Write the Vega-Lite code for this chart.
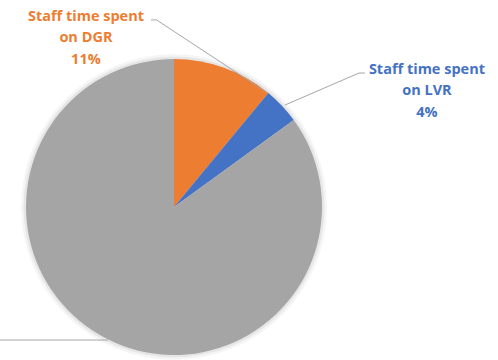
{
  "$schema": "https://vega.github.io/schema/vega-lite/v6.json",
  "autosize": "none",
  "width": 348,
  "height": 414,
  "padding": {"left": 0, "top": 0, "right": 150, "bottom": 0},
  "background": "white",
  "config": {"view": {"stroke": null}},
  "datasets": {
    "slices": [
      {"category": "Staff time spent on DGR", "value": 11, "ord": 1},
      {"category": "Staff time spent on LVR", "value": 4, "ord": 2},
      {"category": "Other staff time", "value": 85, "ord": 3}
    ],
    "leaders": [
      {"leader": "DGR", "seq": 1, "px": -15.5, "py": 126.4},
      {"leader": "DGR", "seq": 2, "px": -11.8, "py": 126.4},
      {"leader": "DGR", "seq": 3, "px": 62.5, "py": 77.5},
      {"leader": "LVR", "seq": 1, "px": 129.0, "py": 90.5},
      {"leader": "LVR", "seq": 2, "px": 125.0, "py": 90.5},
      {"leader": "LVR", "seq": 3, "px": 75.0, "py": 68.9},
      {"leader": "Other", "seq": 1, "px": -44.6, "py": -89.9},
      {"leader": "Other", "seq": 2, "px": -125.0, "py": -89.9}
    ],
    "labels": [
      {"label": ["Staff time spent", "on DGR", "11%"], "category": "Staff time spent on DGR", "px": -59.5, "py": 128.4},
      {"label": ["Staff time spent", "on LVR", "4%"], "category": "Staff time spent on LVR", "px": 170.9, "py": 92.6}
    ]
  },
  "layer": [
    {
      "data": {"values": [{"v": 100}]},
      "mark": {"type": "arc", "outerRadius": 153, "fill": "#000000", "opacity": 0.04},
      "encoding": {"theta": {"field": "v", "type": "quantitative", "scale": {"domain": [0, 100]}}}
    },
    {
      "data": {"values": [{"v": 100}]},
      "mark": {"type": "arc", "outerRadius": 150.5, "fill": "#000000", "opacity": 0.06},
      "encoding": {"theta": {"field": "v", "type": "quantitative", "scale": {"domain": [0, 100]}}}
    },
    {
      "data": {"name": "slices"},
      "mark": {"type": "arc", "outerRadius": 148},
      "encoding": {
        "theta": {"field": "value", "type": "quantitative", "stack": true, "scale": {"domain": [0, 100]}},
        "order": {"field": "ord", "type": "quantitative"},
        "color": {
          "field": "category",
          "type": "nominal",
          "scale": {
            "domain": ["Staff time spent on DGR", "Staff time spent on LVR", "Other staff time"],
            "range": ["#ED7D31", "#4472C4", "#A5A5A5"]
          },
          "legend": null
        }
      }
    },
    {
      "data": {"name": "leaders"},
      "mark": {"type": "line", "stroke": "#A6A6A6", "strokeWidth": 1, "clip": false},
      "encoding": {
        "x": {"field": "px", "type": "quantitative", "scale": {"domain": [-117.57, 117.57], "nice": false, "zero": false}, "axis": null},
        "y": {"field": "py", "type": "quantitative", "scale": {"domain": [-139.86, 139.86], "nice": false, "zero": false}, "axis": null},
        "detail": {"field": "leader", "type": "nominal"},
        "order": {"field": "seq", "type": "quantitative"}
      }
    },
    {
      "data": {"name": "labels"},
      "mark": {"type": "text", "font": "Open Sans", "fontWeight": "bold", "fontSize": 14.5, "lineHeight": 21.5, "align": "center", "baseline": "middle"},
      "encoding": {
        "x": {"field": "px", "type": "quantitative", "scale": {"domain": [-117.57, 117.57], "nice": false, "zero": false}, "axis": null},
        "y": {"field": "py", "type": "quantitative", "scale": {"domain": [-139.86, 139.86], "nice": false, "zero": false}, "axis": null},
        "text": {"field": "label"},
        "color": {"field": "category", "type": "nominal", "legend": null}
      }
    }
  ]
}
